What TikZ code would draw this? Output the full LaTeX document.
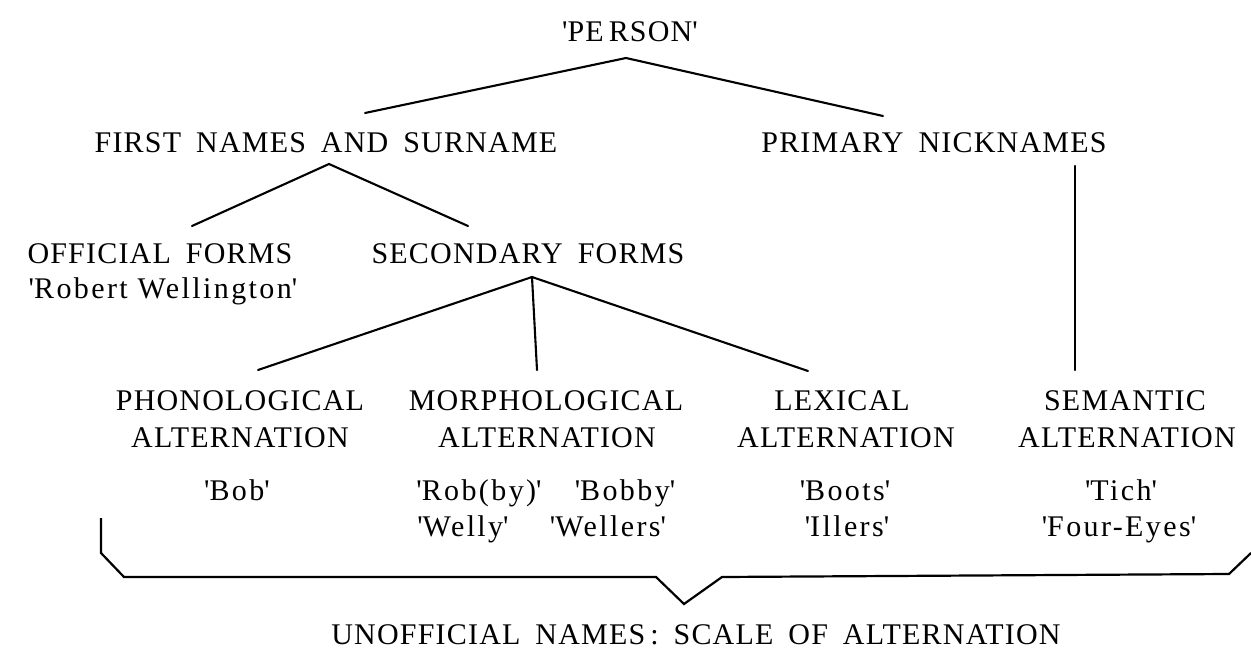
\documentclass[tikz,border=0pt]{standalone}
\usepackage{fontspec}
\setmainfont{Liberation Serif}[LetterSpace=4]
\newfontfamily\qfont{Liberation Serif}[LetterSpace=8]
\newcommand{\ws}{\hspace{0.5em}}
\newcommand{\qq}{\textquotesingle}
\begin{document}
\begin{tikzpicture}[x=1pt,y=-1pt,
  lbl/.style={inner sep=0pt, anchor=base, font=\fontsize{30}{34}\selectfont},
  qlbl/.style={inner sep=0pt, anchor=base, font=\qfont\fontsize{30}{34}\selectfont},
  conn/.style={line width=2.1pt, line cap=round},
  bracepath/.style={line width=2.2pt, line join=miter}]
\useasboundingbox (0,0) rectangle (1251,650);
% labels
\node[lbl] (person) at (630,42) {\qq PE\,RSON\qq};
\node[lbl] (first) at (326,153) {FIRST\ws NAMES\ws AND\ws SURNAME};
\node[lbl] (primary) at (934,153) {PRIMARY\ws NICKNAMES};
\node[lbl] (official) at (160,263) {OFFICIAL\ws FORMS};
\node[qlbl] (robert) at (163,298) {\qq Robert Wellington\qq};
\node[lbl] (secondary) at (528,263) {SECONDARY\ws FORMS};
\node[lbl] (phon1) at (240,410) {PHONOLOGICAL};
\node[lbl] (phon2) at (240,447) {ALTERNATION};
\node[lbl] (morph1) at (546,410) {MORPHOLOGICAL};
\node[lbl] (morph2) at (547,447) {ALTERNATION};
\node[lbl] (lex1) at (842,410) {LEXICAL};
\node[lbl] (lex2) at (846,447) {ALTERNATION};
\node[lbl] (sem1) at (1125,410) {SEMANTIC};
\node[lbl] (sem2) at (1127,447) {ALTERNATION};
\node[qlbl] (bob) at (237,500) {\qq Bob\qq};
\node[qlbl] (robby) at (479,500) {\qq Rob(by)\qq};
\node[qlbl] (bobby) at (625,500) {\qq Bobby\qq};
\node[qlbl] (welly) at (463,536) {\qq Welly\qq};
\node[qlbl] (wellers) at (608,536) {\qq Wellers\qq};
\node[qlbl] (boots) at (845,500) {\qq Boots\qq};
\node[qlbl] (illers) at (847,536) {\qq Illers\qq};
\node[qlbl] (tich) at (1121,500) {\qq Tich\qq};
\node[qlbl] (foureyes) at (1119,536) {\qq Four-Eyes\qq};
\node[lbl] (unofficial) at (696,644) {UNOFFICIAL\ws NAMES\,:\ws SCALE\ws OF\ws ALTERNATION};
% junction points
\coordinate (jPerson) at (626,58);
\coordinate (jFirstL) at (365,113);
\coordinate (jPrimR) at (883,116);
\coordinate (jFirst) at (329,164);
\coordinate (jOffic) at (192,226);
\coordinate (jSecon) at (468,226);
\coordinate (jPrim) at (1075,166);
\coordinate (jSem) at (1075,370);
\coordinate (jSec) at (532,277);
\coordinate (jPhon) at (258,370);
\coordinate (jMorph) at (537,370);
\coordinate (jLex) at (808,371);
% connectors
\draw[conn] (jFirstL) -- (jPerson) -- (jPrimR);
\draw[conn] (jOffic) -- (jFirst) -- (jSecon);
\draw[conn] (jPrim) -- (jSem);
\draw[conn] (jPhon) -- (jSec) -- (jLex);
\draw[conn] (jSec) -- (jMorph);
% brace
\coordinate (bTip) at (684,604);
\draw[bracepath] (101,518) -- (101,553) -- (124,577) -- (656,577) -- (bTip) -- (722,577) -- (1229,574) -- (1251,553);
\end{tikzpicture}
\end{document}
